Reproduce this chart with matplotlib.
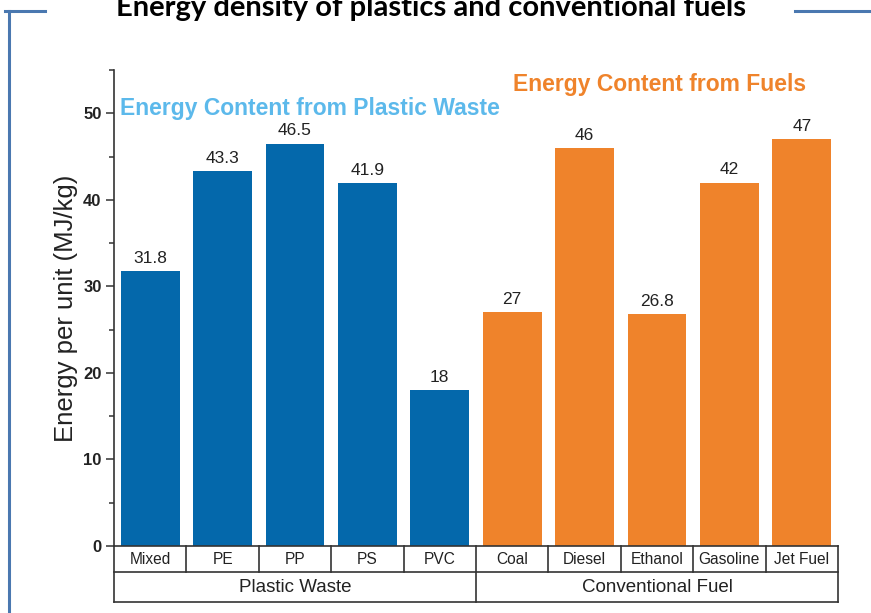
import matplotlib
matplotlib.use("Agg")
import matplotlib.pyplot as plt
from matplotlib.lines import Line2D
from matplotlib.ticker import MultipleLocator

categories = ["Mixed", "PE", "PP", "PS", "PVC", "Coal", "Diesel", "Ethanol", "Gasoline", "Jet Fuel"]
values = [31.8, 43.3, 46.5, 41.9, 18, 27, 46, 26.8, 42, 47]
value_labels = ["31.8", "43.3", "46.5", "41.9", "18", "27", "46", "26.8", "42", "47"]
groups = ["Plastic Waste", "Conventional Fuel"]
group_sizes = [5, 5]

BLUE = "#0468ab"
ORANGE = "#ef832b"
FRAME = "#4a78b0"
TXT = "#222222"

plt.rcParams["font.family"] = ["Liberation Sans", "DejaVu Sans"]

W, H = 871, 613
fig = plt.figure(figsize=(W / 100, H / 100), dpi=100)

def fx(px):
    return px / W

def fy(py):
    return 1 - py / H

# main axes: spine x 114..838, y 546 (0) .. 70 (55)
ax = fig.add_axes([fx(114), fy(546), fx(838) - fx(114), fy(70) - fy(546)])
colors = [BLUE] * group_sizes[0] + [ORANGE] * group_sizes[1]
x = list(range(len(categories)))
ax.bar(x, values, width=0.81, color=colors, zorder=2)
for xi, v, lab in zip(x, values, value_labels):
    ax.text(xi, v + 0.6, lab, ha="center", va="bottom", fontsize=12.5, color=TXT)

ax.set_xlim(-0.5, 9.5)
ax.set_ylim(0, 55)
ax.yaxis.set_major_locator(MultipleLocator(10))
ax.yaxis.set_minor_locator(MultipleLocator(5))
ax.tick_params(axis="y", which="major", direction="out", length=6, width=1.1,
               color="#333333", labelsize=12, labelcolor=TXT, pad=3)
ax.tick_params(axis="y", which="minor", direction="out", length=3.5, width=1.1, color="#333333")
for lab in ax.get_yticklabels():
    lab.set_fontweight("bold")
ax.set_xticks([])
for s in ["top", "right", "bottom"]:
    ax.spines[s].set_visible(False)
ax.spines["left"].set_color("#333333")
ax.spines["left"].set_linewidth(1.2)
ax.set_ylabel("Energy per unit (MJ/kg)", fontsize=18.5, color=TXT, labelpad=4)

ax.text(-0.42, 50.6, "Energy Content from Plastic Waste", color="#5cb9eb",
        fontsize=16.5, fontweight="bold", ha="left", va="center")
ax.text(5.01, 53.3, "Energy Content from Fuels", color=ORANGE,
        fontsize=16.5, fontweight="bold", ha="left", va="center")

# category table below the axis
tab = fig.add_axes([fx(114), fy(602), fx(838) - fx(114), fy(546) - fy(602)])
tab.set_xlim(-0.5, 9.5)
tab.set_ylim(0, 56)
tab.axis("off")
lk = dict(color="#333333", lw=1.2, clip_on=False)
for yy in [0, 30, 56]:
    tab.plot([-0.5, 9.5], [yy, yy], **lk)
for i in range(len(categories) + 1):
    xb = i - 0.5
    if i in (0, len(categories), group_sizes[0]):
        tab.plot([xb, xb], [0, 56], **lk)
    else:
        tab.plot([xb, xb], [30, 56], **lk)
for xi, c in zip(x, categories):
    tab.text(xi, 43, c, ha="center", va="center", fontsize=11.2, color=TXT)
start = 0
for g, n in zip(groups, group_sizes):
    tab.text(start + (n - 1) / 2, 15, g, ha="center", va="center", fontsize=13.5, color=TXT)
    start += n

# frame around the figure
fig.add_artist(Line2D([fx(9), fx(9)], [fy(11), fy(613)], color=FRAME, lw=2.2))
fig.add_artist(Line2D([fx(5), fx(45)], [fy(11), fy(11)], color=FRAME, lw=2.2))
fig.add_artist(Line2D([fx(795), fx(871)], [fy(11), fy(11)], color=FRAME, lw=2.2))
fig.text(fx(431), fy(16), "Energy density of plastics and conventional fuels",
         ha="center", va="baseline", fontsize=21, fontweight="bold", color="#000000",
         family=["Lato", "DejaVu Sans"])

fig.savefig("out.png", dpi=100)
